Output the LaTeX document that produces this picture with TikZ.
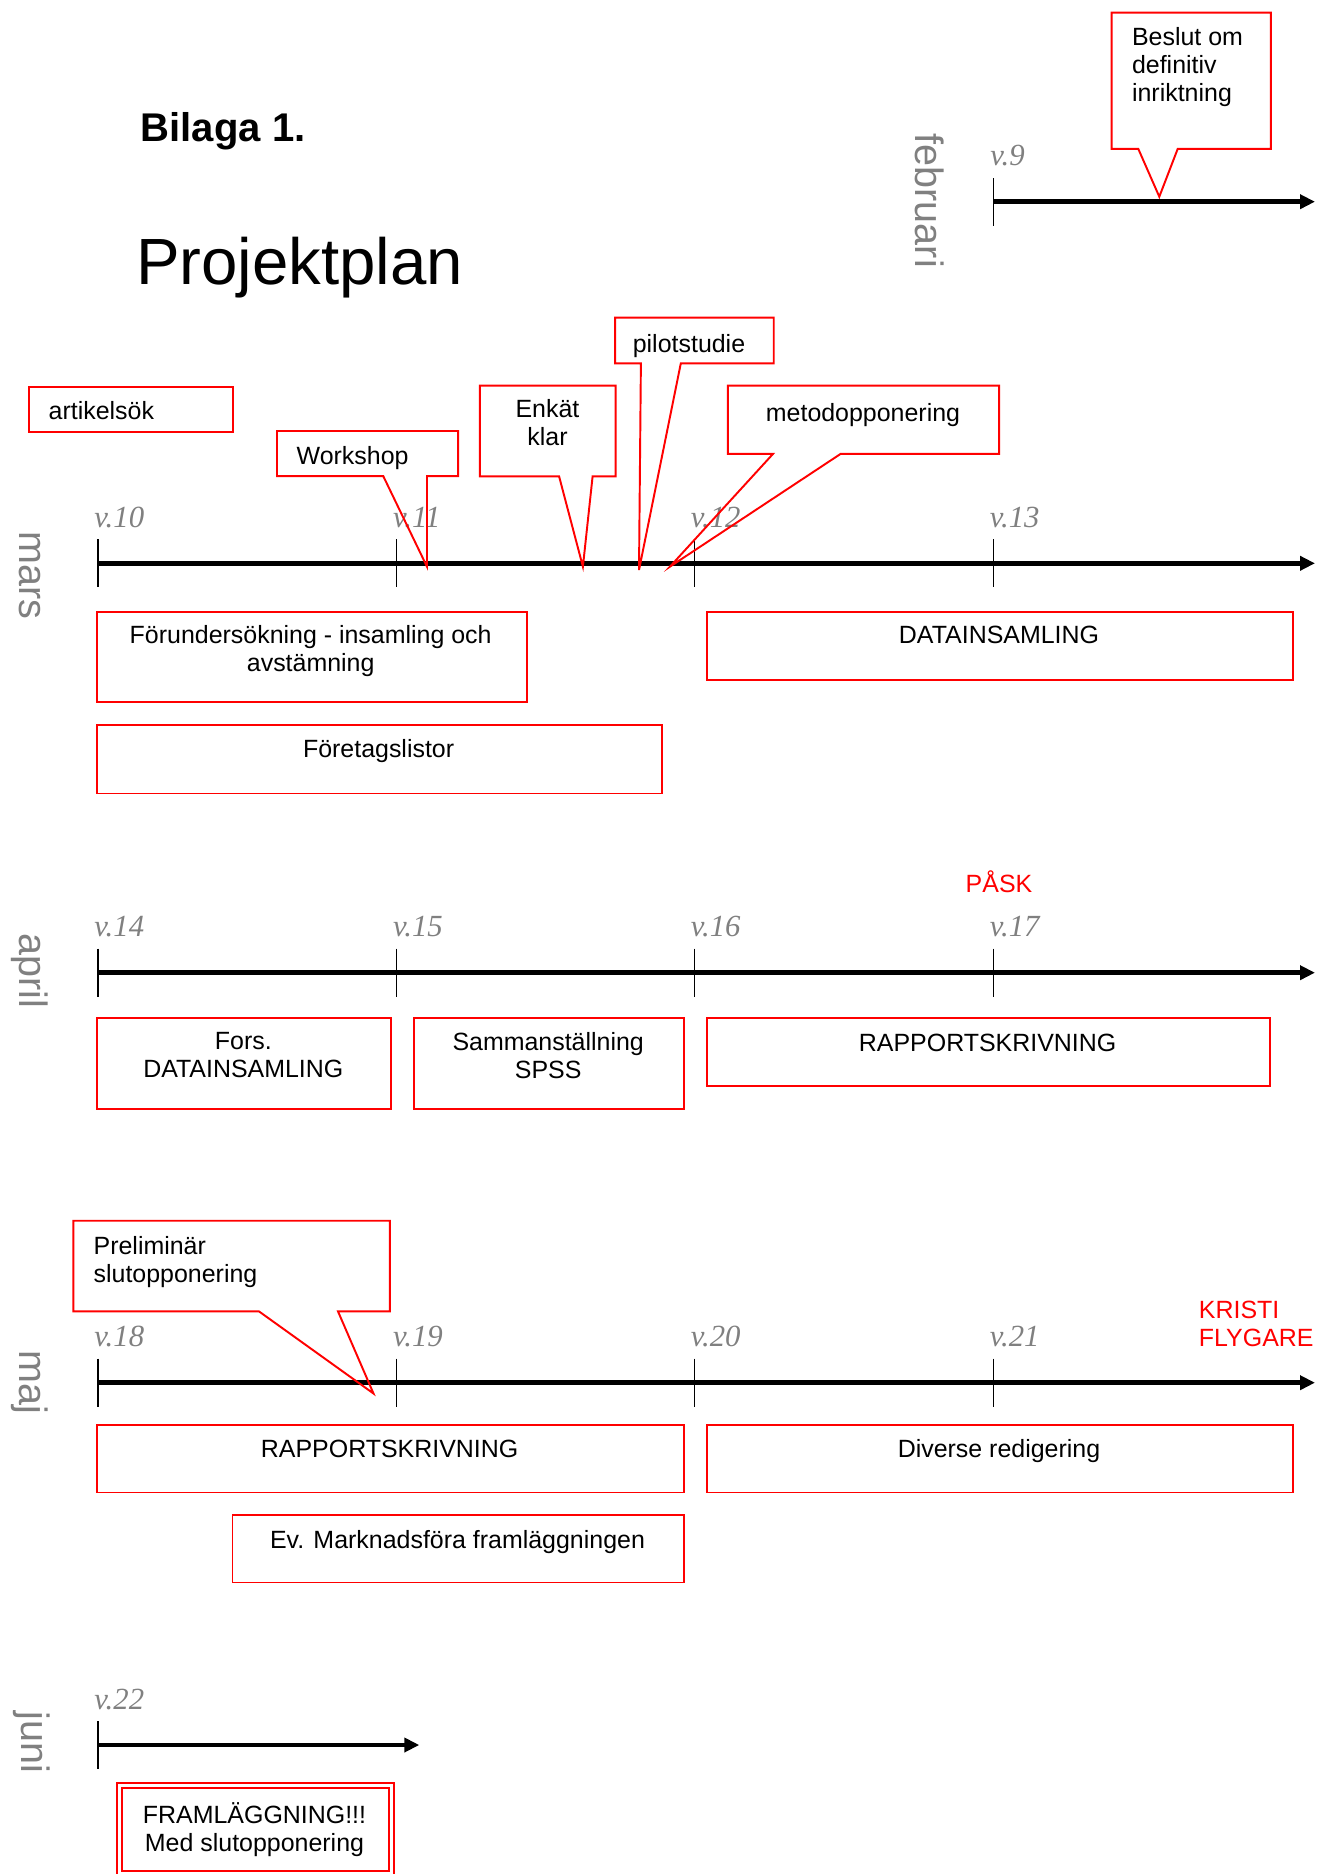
\documentclass[tikz,border=0pt]{standalone}
\usepackage{fontspec}
\setmainfont{Liberation Sans}
\newfontfamily\weekfont{Liberation Serif}
\usetikzlibrary{arrows.meta,positioning,calc}

\definecolor{wkgray}{gray}{0.5}

\begin{document}
\begin{tikzpicture}[x=0.02cm, y=-0.02cm,
    redbox/.style={draw=red, line width=1.1pt, anchor=north west, inner sep=0pt},
    calbox/.style={anchor=north west, inner sep=0pt},
    callout/.style={draw=red, line width=1.1pt, line join=miter},
    boxtxt/.style={font=\fontsize{14.2}{15.9}\selectfont, align=center, inner sep=0pt, execute at begin node=\strut},
    tline/.style={line width=2.6pt, -{Triangle[length=0.3cm, width=0.28cm]}},
    wtick/.style={line width=0.9pt},
    week/.style={font=\weekfont\itshape\fontsize{17.5}{17.5}\selectfont, text=wkgray, anchor=base west, inner sep=0pt},
    month/.style={font=\fontsize{22.5}{22.5}\selectfont, text=wkgray, rotate=-90, inner sep=0pt},
    holiday/.style={font=\fontsize{14.2}{15.9}\selectfont, text=red, align=left, inner sep=0pt}
]
\useasboundingbox (0,0) rectangle (1317,1874);

% titles
\node[anchor=base west, inner sep=0pt, font=\bfseries\fontsize{22.8}{26}\selectfont] (bilaga) at (140.4,141) {Bilaga 1.};
\node[anchor=base west, inner sep=0pt, font=\fontsize{37.2}{40}\selectfont] (titel) at (135.7,284) {Projektplan};

% months
\node[month] (feb) at (929.7,200.8) {februari};
\node[month] (mars) at (30,575.4) {mars};
\node[month] (april) at (30,971) {april};
\node[month] (maj) at (30,1382) {maj};
\node[month] (juni) at (32,1742.5) {juni};

% time lines
\foreach \m/\y/\xs/\xe in {feb/201.7/993.7/1315, mar/563.3/98/1315, apr/972.7/98/1315, maj/1382.7/98/1315, jun/1745/98/419.3} {
  \coordinate (\m-s) at (\xs,\y);
  \coordinate (\m-e) at (\xe,\y);
  \draw[tline] (\m-s) -- (\m-e);
}
\foreach \x in {98,396.7,694.4,993.4} {
  \draw[wtick] (\x,539.3) -- (\x,587.3);
  \draw[wtick] (\x,948.7) -- (\x,996.7);
  \draw[wtick] (\x,1358.7) -- (\x,1406.7);
}
\draw[wtick] (993.7,178.3) -- (993.7,225.7);
\draw[wtick] (98,1721) -- (98,1769);

% week numbers
\node[week] (v9) at (990,165.7) {v.9};
\foreach \x/\a/\b/\c in {98/10/14/18, 396.7/11/15/19, 694.4/12/16/20, 993.4/13/17/21} {
  \node[week] (v\a) at (\x-4,527.3) {v.\a};
  \node[week] (v\b) at (\x-4,936.7) {v.\b};
  \node[week] (v\c) at (\x-4,1346.7) {v.\c};
}
\node[week] (v22) at (94,1709) {v.22};

% callouts
\node[calbox, minimum width=3.17cm, minimum height=2.71cm] (beslut) at (1111.7,12.7) {};
\coordinate (beslut-tip) at (1159.3,196.7);
\draw[callout] (beslut.north west) -- (beslut.north east) -- (beslut.south east) -- ($(beslut.south west)+(66,0)$) -- (beslut-tip) -- ($(beslut.south west)+(26.6,0)$) -- (beslut.south west) -- cycle;
\node[boxtxt, align=left, anchor=north west] (beslut-t) at (1131.7,27.3) {Beslut om\\definitiv\\inriktning};

\node[redbox, minimum width=4.07cm, minimum height=0.9cm] (artikel) at (28.3,385.7) {};
\node[boxtxt, anchor=north west] (artikel-t) at (48.3,400) {artikelsök};

\node[calbox, minimum width=3.61cm, minimum height=0.89cm] (ws) at (277,431) {};
\coordinate (ws-tip) at (427,566.7);
\draw[callout] (ws.north west) -- (ws.north east) -- (ws.south east) -- ($(ws.south west)+(150,0)$) -- (ws-tip) -- ($(ws.south west)+(106.3,0)$) -- (ws.south west) -- cycle;
\node[boxtxt, anchor=north west] (ws-t) at (296.3,444.7) {Workshop};

\node[calbox, minimum width=2.7cm, minimum height=1.8cm] (enkat) at (479.9,385.7) {};
\coordinate (enkat-tip) at (582.9,566.7);
\draw[callout] (enkat.north west) -- (enkat.north east) -- (enkat.south east) -- ($(enkat.south west)+(112.7,0)$) -- (enkat-tip) -- ($(enkat.south west)+(79.2,0)$) -- (enkat.south west) -- cycle;
\node[boxtxt, anchor=north] (enkat-t) at (547.5,399) {Enkät\\klar};

\node[calbox, minimum width=3.16cm, minimum height=0.9cm] (pilot) at (615.1,317.7) {};
\coordinate (pilot-tip) at (639,570);
\draw[callout] (pilot.north west) -- (pilot.north east) -- (pilot.south east) -- ($(pilot.south west)+(65.7,0)$) -- (pilot-tip) -- ($(pilot.south west)+(25.8,0)$) -- (pilot.south west) -- cycle;
\node[boxtxt, anchor=north] (pilot-t) at (689,332.3) {pilotstudie};

\node[calbox, minimum width=5.41cm, minimum height=1.35cm] (metod) at (727.9,385.7) {};
\coordinate (metod-tip) at (669.9,566.7);
\draw[callout] (metod.north west) -- (metod.north east) -- (metod.south east) -- ($(metod.south west)+(112.7,0)$) -- (metod-tip) -- ($(metod.south west)+(45.1,0)$) -- (metod.south west) -- cycle;
\node[boxtxt, anchor=north] (metod-t) at (863,401.3) {metodopponering};

\node[calbox, minimum width=6.32cm, minimum height=1.8cm] (prelim) at (73.3,1220.7) {};
\coordinate (prelim-tip) at (373.5,1393.5);
\draw[callout] (prelim.north west) -- (prelim.north east) -- (prelim.south east) -- ($(prelim.south west)+(264.7,0)$) -- (prelim-tip) -- ($(prelim.south west)+(185.7,0)$) -- (prelim.south west) -- cycle;
\node[boxtxt, align=left, anchor=north west] (prelim-t) at (93.3,1235.7) {Preliminär\\slutopponering};

% activity boxes
\node[redbox, minimum width=8.6cm, minimum height=1.81cm] (foru) at (95.8,611) {};
\node[boxtxt, anchor=north] (foru-t) at (310.7,625) {Förundersökning - insamling och\\avstämning};
\node[redbox, minimum width=11.74cm, minimum height=1.36cm] (data) at (705.6,611) {};
\node[boxtxt, anchor=north] (data-t) at (999,624) {DATAINSAMLING};
\node[redbox, minimum width=11.31cm, minimum height=1.37cm] (foretag) at (95.8,724) {};
\node[boxtxt, anchor=north] (foretag-t) at (378.6,738) {Företagslistor};

\node[holiday, anchor=base] (pask) at (999,892.3) {PÅSK};
\node[redbox, minimum width=5.88cm, minimum height=1.82cm] (fors) at (95.8,1017.3) {};
\node[boxtxt, anchor=north] (fors-t) at (243.3,1032.3) {Fors.\\DATAINSAMLING};
\node[redbox, minimum width=5.41cm, minimum height=1.82cm] (samman) at (412.9,1017.3) {};
\node[boxtxt, anchor=north] (samman-t) at (548.2,1032.3) {Sammanställning\\SPSS};
\node[redbox, minimum width=11.28cm, minimum height=1.35cm] (rapp1) at (705.6,1017.3) {};
\node[boxtxt, anchor=north] (rapp1-t) at (987.6,1031.7) {RAPPORTSKRIVNING};

\node[holiday, anchor=north west, execute at begin node=\strut] (kristi) at (1198.6,1300.7) {KRISTI\\FLYGARE};
\node[redbox, minimum width=11.75cm, minimum height=1.35cm] (rapp2) at (95.8,1424) {};
\node[boxtxt, anchor=north] (rapp2-t) at (389.6,1437.3) {RAPPORTSKRIVNING};
\node[redbox, minimum width=11.74cm, minimum height=1.35cm] (diverse) at (705.6,1424) {};
\node[boxtxt, anchor=north] (diverse-t) at (999,1438) {Diverse redigering};
\node[redbox, minimum width=9.04cm, minimum height=1.35cm] (marknad) at (231.5,1514) {};
\node[boxtxt, anchor=north] (marknad-t) at (457.5,1528.3) {Ev. Marknadsföra framläggningen};

\node[redbox, double=white, double distance=1.7pt, minimum width=5.45cm, minimum height=1.76cm] (fram) at (118.2,1784.2) {};
\node[boxtxt, anchor=north] (fram-t) at (254.5,1802.3) {FRAMLÄGGNING!!!\\Med slutopponering};
\end{tikzpicture}
\end{document}
